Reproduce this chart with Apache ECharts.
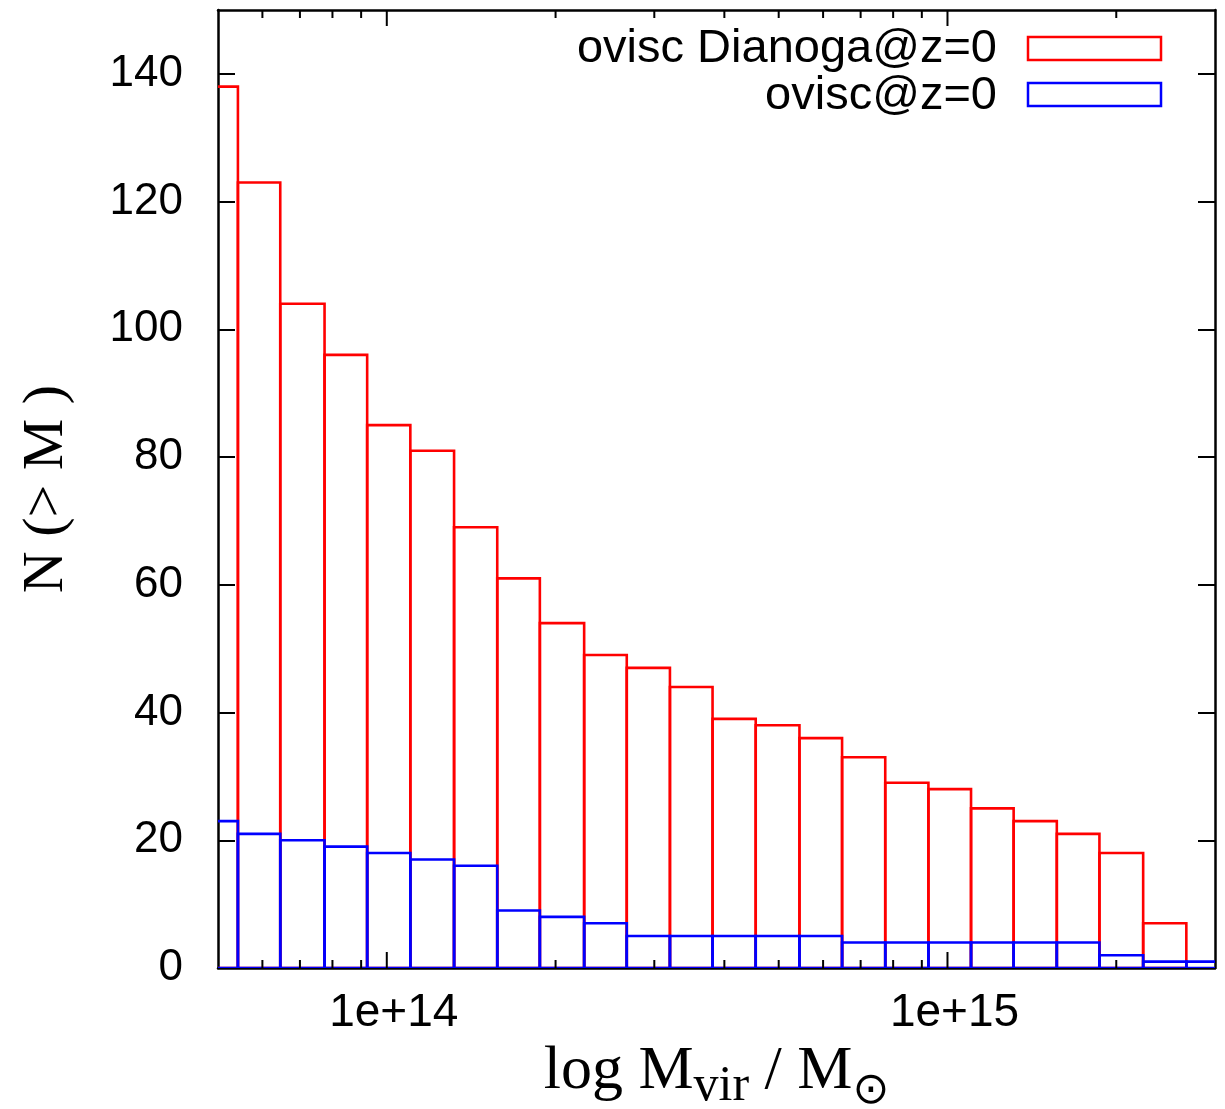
<!DOCTYPE html>
<html><head><meta charset="utf-8">
<script src="https://cdn.jsdelivr.net/npm/echarts@6/dist/echarts.min.js"></script>
<style>html,body{margin:0;padding:0;background:#fff}#c{width:1225px;height:1109px}</style>
</head><body><div id="c"></div>
<script>
// Bin edges in log10(M_vir / M_sun)
const binEdges = [13.658, 13.7345, 13.810, 13.889, 13.965, 14.042, 14.120, 14.197, 14.273, 14.352, 14.428, 14.505, 14.581, 14.658, 14.736, 14.812, 14.889, 14.966, 15.042, 15.118, 15.195, 15.271, 15.349, 15.426, 15.503];
// Cumulative counts N(>M)
const dianogaCounts = [138, 123, 104, 96, 85, 81, 69, 61, 54, 49, 47, 44, 39, 38, 36, 33, 29, 28, 25, 23, 21, 18, 7, 0];
const oviscCounts   = [23, 21, 20, 19, 18, 17, 16, 9, 8, 7, 5, 5, 5, 5, 5, 4, 4, 4, 4, 4, 4, 2, 1, 1];
const seriesNames = ['ovisc Dianoga@z=0', 'ovisc@z=0'];
// Axis ticks
const xMinMass = 5e13, xMaxMass = 3e15;
const xMajorTicks = [1e14, 1e15];
const xMajorLabels = ['1e+14', '1e+15'];
const xMinorTicks = [6e13, 7e13, 8e13, 9e13, 2e14, 3e14, 4e14, 5e14, 6e14, 7e14, 8e14, 9e14, 2e15];
const yTicks = [0, 20, 40, 60, 80, 100, 120, 140];
const yMax = 150;

const L = Math.log10;
const xMin = L(xMinMass), xMax = L(xMaxMass);
const majorLog = xMajorTicks.map(v => L(v));
const minorLog = xMinorTicks.map(v => L(v));

const gridBox = {left: 218, top: 10, right: 10, bottom: 141};

const chart = echarts.init(document.getElementById('c'), null, {renderer: 'canvas'});
const W = chart.getWidth(), H = chart.getHeight();
const plotW = W - gridBox.left - gridBox.right;
const plotTop = gridBox.top, plotBottom = H - gridBox.bottom;
// Same linear-in-log10 mapping the value axis uses (axis min/max -> grid edges)
function xScale(v) { return gridBox.left + (v - xMin) / (xMax - xMin) * plotW; }

function boxSeries(name, counts, color) {
  return {
    type: 'custom', name: name, clip: true, silent: true, animation: false,
    xAxisIndex: 0, yAxisIndex: 0, z: 2,
    data: counts.map((c, i) => [binEdges[i], binEdges[i + 1], c]),
    encode: {x: [0, 1], y: 2},
    renderItem: function (params, api) {
      const c = api.value(2);
      if (!c) return null;
      const p0 = api.coord([api.value(0), c]);
      const p1 = api.coord([api.value(1), 0]);
      return {type: 'rect', shape: {x: p0[0], y: p0[1], width: p1[0] - p0[0], height: p1[1] - p0[1]},
        style: {fill: 'none', stroke: color, lineWidth: 2.6}};
    }
  };
}

const graphics = [
  {type: 'text', x: 997, y: 49, z: 100, style: {text: seriesNames[0], font: '47px "Liberation Sans"', fill: '#000', align: 'right', verticalAlign: 'middle'}},
  {type: 'rect', x: 1028, y: 37, z: 100, shape: {width: 133, height: 23}, style: {fill: '#fff', stroke: '#ff0000', lineWidth: 2.5}},
  {type: 'text', x: 997, y: 96, z: 100, style: {text: seriesNames[1], font: '47px "Liberation Sans"', fill: '#000', align: 'right', verticalAlign: 'middle'}},
  {type: 'rect', x: 1028, y: 83, z: 100, shape: {width: 133, height: 23}, style: {fill: '#fff', stroke: '#0000ff', lineWidth: 2.5}}
];
[[minorLog, 8], [majorLog, 16]].forEach(g => {
  const vals = g[0], len = g[1];
  vals.forEach(v => {
    const x = xScale(v);
    graphics.push({type: 'rect', z: 60, shape: {x: x - 1, y: plotBottom - len, width: 2, height: len}, style: {fill: '#000'}});
    graphics.push({type: 'rect', z: 60, shape: {x: x - 1, y: plotTop, width: 2, height: len}, style: {fill: '#000'}});
  });
});

const axisLineStyle = {color: '#000', width: 2.5};

const option = {
  backgroundColor: '#fff',
  animation: false,
  grid: {left: gridBox.left, top: gridBox.top, right: gridBox.right, bottom: gridBox.bottom, containLabel: false, outerBoundsMode: 'none'},
  xAxis: [
    {
      type: 'value', position: 'bottom', min: xMin, max: xMax,
      axisLine: {show: true, onZero: false, lineStyle: axisLineStyle},
      axisTick: {show: false},
      axisLabel: {
        show: true, customValues: majorLog, margin: 22,
        formatter: v => { const i = majorLog.findIndex(t => Math.abs(t - v) < 1e-6); return i >= 0 ? xMajorLabels[i] : ''; },
        fontFamily: 'Liberation Sans', fontSize: 46, color: '#000', padding: [0, 0, 0, 14]
      },
      splitLine: {show: false},
      name: '{a|log M}{s|vir}{a| / M}{o|⊙}',
      nameLocation: 'middle', nameGap: 58,
      nameTextStyle: {
        rich: {
          a: {fontFamily: 'Liberation Serif', fontSize: 62, color: '#000'},
          s: {fontFamily: 'Liberation Serif', fontSize: 50, color: '#000', padding: [30, 0, 0, 0]},
          o: {fontFamily: 'DejaVu Sans', fontSize: 44, color: '#000', padding: [40, 0, 0, 0]}
        }
      }
    },
    {
      type: 'value', position: 'top', min: xMin, max: xMax,
      axisLine: {show: true, onZero: false, lineStyle: axisLineStyle},
      axisTick: {show: false}, axisLabel: {show: false}, splitLine: {show: false}
    }
  ],
  yAxis: [
    {
      type: 'value', position: 'left', min: 0, max: yMax,
      axisLine: {show: true, onZero: false, lineStyle: axisLineStyle},
      axisTick: {show: true, inside: true, length: 17, customValues: yTicks, lineStyle: {color: '#000', width: 2}},
      axisLabel: {show: true, customValues: yTicks, margin: 35, fontFamily: 'Liberation Sans', fontSize: 44, color: '#000'},
      splitLine: {show: false},
      name: 'N (> M )', nameLocation: 'middle', nameGap: 142,
      nameTextStyle: {fontFamily: 'Liberation Serif', fontSize: 58, color: '#000'}
    },
    {
      type: 'value', position: 'right', min: 0, max: yMax,
      axisLine: {show: true, onZero: false, lineStyle: axisLineStyle},
      axisTick: {show: true, inside: true, length: 17, customValues: yTicks, lineStyle: {color: '#000', width: 2}},
      axisLabel: {show: false}, splitLine: {show: false}
    }
  ],
  series: [
    boxSeries(seriesNames[0], dianogaCounts, '#ff0000'),
    boxSeries(seriesNames[1], oviscCounts, '#0000ff')
  ],
  graphic: graphics
};
chart.setOption(option);
</script>
</body></html>
